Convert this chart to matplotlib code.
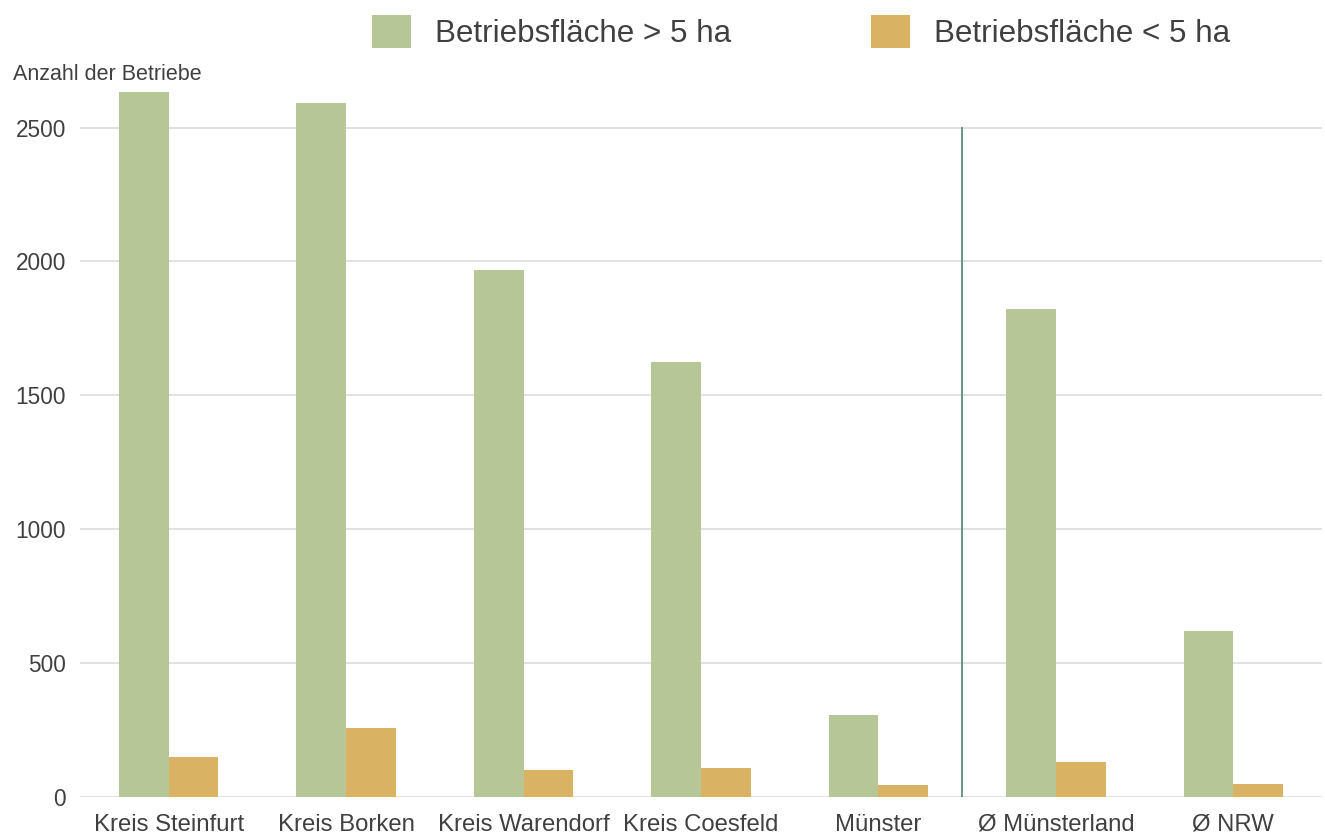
import matplotlib
matplotlib.use("Agg")
import matplotlib.pyplot as plt
from matplotlib.patches import Patch
import numpy as np

# Landwirtschaftliche Betriebe nach Betriebsfläche
regions = ["Kreis Steinfurt", "Kreis Borken", "Kreis Warendorf", "Kreis Coesfeld",
           "Münster", "Ø Münsterland", "Ø NRW"]
over_5ha = [2634, 2590, 1969, 1625, 306, 1823, 620]
under_5ha = [149, 258, 101, 108, 45, 131, 49]
series_labels = ["Betriebsfläche > 5 ha", "Betriebsfläche < 5 ha"]
y_ticks = [0, 500, 1000, 1500, 2000, 2500]

green = "#b7c696"
orange = "#d9b264"
text_col = "#404040"
grid_col = "#dcdcdc"

plt.rcParams["font.family"] = ["Liberation Sans", "DejaVu Sans"]

fig = plt.figure(figsize=(13.25, 8.39), dpi=100)
ax = fig.add_axes([80 / 1325, 42 / 839, 1242 / 1325, (797 - 74) / 839])

x = np.arange(len(regions))
w = 0.28
ax.bar(x - w / 2, over_5ha, width=w, color=green, zorder=3)
ax.bar(x + w / 2, under_5ha, width=w, color=orange, zorder=3)

ax.set_xlim(-0.5, len(regions) - 0.5)
ax.set_ylim(0, 2700)
ax.set_yticks(y_ticks)
ax.set_yticklabels([str(v) for v in y_ticks])
ax.set_xticks(x)
ax.set_xticklabels(regions)
ax.tick_params(axis="both", length=0, colors=text_col)
ax.tick_params(axis="y", pad=10, labelsize=16.3)
ax.tick_params(axis="x", pad=12, labelsize=17.2)

for v in y_ticks:
    ax.axhline(v, color=grid_col, linewidth=1.2, zorder=1)

# separator between districts and averages
ax.plot([4.47, 4.47], [0, 2500], color="#5d8b7e", linewidth=1.3, zorder=4)

for s in ax.spines.values():
    s.set_visible(False)

fig.text(13 / 1325, 1 - 75 / 839, "Anzahl der Betriebe", fontsize=15.5,
         color=text_col, ha="left", va="center")

handles = [Patch(facecolor=green, edgecolor="none"),
           Patch(facecolor=orange, edgecolor="none")]
fig.legend(handles, series_labels, loc="center", bbox_to_anchor=(801 / 1325, 1 - 32 / 839),
           ncol=2, frameon=False, fontsize=22.6, handlelength=1.24, handleheight=1.24,
           handletextpad=0.76, columnspacing=4.46, labelcolor=text_col)

fig.savefig("out.png", dpi=100)
